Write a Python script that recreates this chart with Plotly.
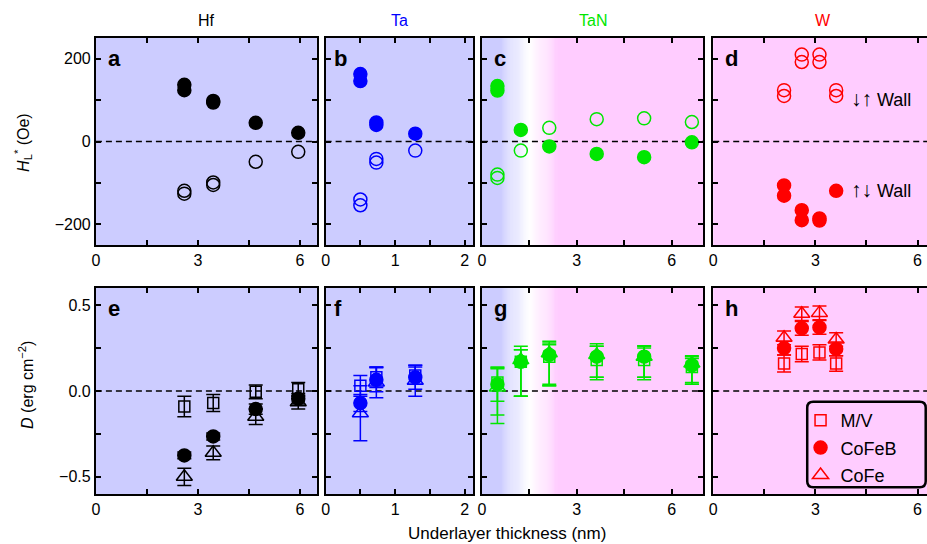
import plotly.graph_objects as go

# ---------------- data ----------------
# Top row: H_L* (Oe)
hf_x_filled = [2.6, 2.6, 3.45, 3.45, 4.7, 5.95]
hf_filled = [137, 124, 98, 94, 45, 21]
hf_x_open = [2.6, 2.6, 3.45, 3.45, 4.7, 5.95]
hf_open = [-119, -126, -99, -105, -49, -25]

ta_x_filled = [0.5, 0.5, 0.73, 0.73, 1.29]
ta_filled = [163, 146, 46, 40, 19]
ta_x_open = [0.5, 0.5, 0.73, 0.73, 1.29]
ta_open = [-140, -154, -42, -51, -22]

tan_x_filled = [0.49, 0.49, 1.23, 2.13, 3.63, 5.13, 6.64]
tan_filled = [134, 123, 28, -12, -30, -38, -2]
tan_x_open = [0.49, 0.49, 1.23, 2.13, 3.63, 5.13, 6.64]
tan_open = [-80, -88, -22, 33, 54, 56, 47]

w_x_open = [2.08, 2.08, 2.6, 2.6, 3.12, 3.12, 3.61, 3.61]
w_open = [124, 110, 210, 192, 210, 192, 124, 110]
w_x_filled = [2.08, 2.08, 2.6, 2.6, 3.12, 3.12, 3.61]
w_filled = [-106, -131, -166, -190, -186, -191, -119]

# Bottom row: D (erg cm^-2)
hf_d_x = [2.6, 3.45, 4.7, 5.95]
hf_mv = [-0.09, -0.07, -0.005, 0.01]
hf_mv_err = [0.06, 0.05, 0.04, 0.04]
hf_cofeb = [-0.375, -0.265, -0.105, -0.045]
hf_cofeb_err = [0.02, 0.02, 0.03, 0.03]
hf_cofe = [-0.50, -0.36, -0.15, -0.065]
hf_cofe_err = [0.05, 0.04, 0.045, 0.04]

ta_d_x = [0.5, 0.73, 1.29]
ta_mv = [0.03, 0.08, 0.09]
ta_mv_err = [0.06, 0.06, 0.05]
ta_cofeb = [-0.07, 0.065, 0.08]
ta_cofeb_err = [0.05, 0.07, 0.07]
ta_cofe = [-0.13, 0.05, 0.06]
ta_cofe_err = [0.16, 0.09, 0.09]

tan_d_x = [0.49, 1.23, 2.13, 3.63, 5.13, 6.64]
tan_mv = [0.05, 0.17, 0.20, 0.18, 0.18, 0.14]
tan_mv_err_p = [0.085, 0.07, 0.07, 0.08, 0.07, 0.05]
tan_mv_err_m = [0.19, 0.20, 0.17, 0.10, 0.10, 0.10]
tan_cofeb = [0.04, 0.17, 0.21, 0.20, 0.20, 0.15]
tan_cofeb_err_p = [0.09, 0.07, 0.07, 0.06, 0.06, 0.05]
tan_cofeb_err_m = [0.10, 0.20, 0.17, 0.12, 0.12, 0.10]
tan_cofe = [0.02, 0.18, 0.22, 0.21, 0.20, 0.16]
tan_cofe_err_p = [0.12, 0.08, 0.07, 0.065, 0.063, 0.045]
tan_cofe_err_m = [0.21, 0.21, 0.19, 0.145, 0.135, 0.12]

w_d_x = [2.08, 2.6, 3.12, 3.61]
w_mv = [0.16, 0.215, 0.225, 0.16]
w_mv_err = [0.05, 0.045, 0.045, 0.045]
w_cofeb = [0.25, 0.365, 0.37, 0.245]
w_cofeb_err = [0.04, 0.04, 0.04, 0.04]
w_cofe = [0.31, 0.45, 0.455, 0.30]
w_cofe_err = [0.04, 0.04, 0.04, 0.04]

materials = ["Hf", "Ta", "TaN", "W"]
panel_letters = ["a", "b", "c", "d", "e", "f", "g", "h"]
legend_names = ["M/V", "CoFeB", "CoFe"]

# ---------------- style ----------------
BLACK, BLUE, GREEN, RED = "#000000", "#0000ff", "#00e600", "#ff0000"
mat_colors = [BLACK, BLUE, GREEN, RED]
LAV, PINK, WHITE = (204, 204, 255), (255, 204, 255), (255, 255, 255)
FONT = "Liberation Sans, Arial, sans-serif"
W_PX, H_PX = 927, 544

col_px = [(92.3, 314.3), (323, 471), (480, 702.3), (712.3, 927)]
row_px = [(38, 245), (288, 494)]
x_ranges = [[0, 6.5], [0, 2.12], [0, 7.0], [0, (927 - 712.3) / 34.2]]
y_ranges = [[-250, 250], [-0.6, 0.6]]

fig = go.Figure()


def ax(i):
    return ("x" if i == 1 else f"x{i}"), ("y" if i == 1 else f"y{i}")


def scatter(i, x, y, symbol, color, size, ep=None, em=None, name=None, legend=False, rank=None):
    xa, ya = ax(i)
    marker = dict(symbol=symbol, size=size, color=color, line=dict(width=1.5, color=color))
    kw = {}
    if ep is not None:
        kw["error_y"] = dict(type="data", array=ep, arrayminus=em if em is not None else ep,
                             symmetric=em is None, color=color, thickness=1.5, width=7)
    fig.add_trace(go.Scatter(x=x, y=y, mode="markers", marker=marker, xaxis=xa, yaxis=ya,
                             name=name, showlegend=legend, legendrank=rank,
                             legendgroup=name if legend else None, **kw))


# top row
top = [
    (hf_x_filled, hf_filled, hf_x_open, hf_open),
    (ta_x_filled, ta_filled, ta_x_open, ta_open),
    (tan_x_filled, tan_filled, tan_x_open, tan_open),
    (w_x_filled, w_filled, w_x_open, w_open),
]
for k, (xf, yf, xo, yo) in enumerate(top):
    c = mat_colors[k]
    scatter(k + 1, xo, yo, "circle-open", c, 13)
    scatter(k + 1, xf, yf, "circle", c, 13)

# bottom row
bottom = [
    (hf_d_x, hf_mv, hf_mv_err, None, hf_cofeb, hf_cofeb_err, None, hf_cofe, hf_cofe_err, None),
    (ta_d_x, ta_mv, ta_mv_err, None, ta_cofeb, ta_cofeb_err, None, ta_cofe, ta_cofe_err, None),
    (tan_d_x, tan_mv, tan_mv_err_p, tan_mv_err_m, tan_cofeb, tan_cofeb_err_p, tan_cofeb_err_m,
     tan_cofe, tan_cofe_err_p, tan_cofe_err_m),
    (w_d_x, w_mv, w_mv_err, None, w_cofeb, w_cofeb_err, None, w_cofe, w_cofe_err, None),
]
for k, (x, mv, mve, mvem, fb, fbe, fbem, fe, fee, feem) in enumerate(bottom):
    c = mat_colors[k]
    leg = k == 3
    scatter(k + 5, x, fe, "triangle-up-open", c, 14, fee, feem,
            name=legend_names[2], legend=leg, rank=3)
    scatter(k + 5, x, mv, "square-open", c, 11, mve, mvem,
            name=legend_names[0], legend=leg, rank=1)
    scatter(k + 5, x, fb, "circle", c, 13, fbe, fbem,
            name=legend_names[1], legend=leg, rank=2)

# ---------------- axes ----------------
layout = dict(width=W_PX, height=H_PX, margin=dict(l=0, r=0, t=0, b=0),
              paper_bgcolor="white", plot_bgcolor="rgba(0,0,0,0)",
              font=dict(family=FONT, size=16, color="black"))
shapes, annotations = [], []


def hexc(rgb):
    return "#%02x%02x%02x" % tuple(int(round(v)) for v in rgb)


for r in range(2):
    for cidx in range(4):
        i = r * 4 + cidx + 1
        x0, x1 = col_px[cidx]
        y0, y1 = row_px[r]
        xa_name = "xaxis" if i == 1 else f"xaxis{i}"
        ya_name = "yaxis" if i == 1 else f"yaxis{i}"
        xa, ya = ax(i)
        xd_major, xd_minor = (1, 0.5) if cidx == 1 else (3, 1.5)
        yd_major, yd_minor, yfmt = (200, 100, "") if r == 0 else (0.5, 0.25, ".1f")
        common = dict(showline=True, linewidth=2, linecolor="black", ticks="inside",
                      ticklen=5, tickwidth=1.5, tickcolor="black", showgrid=False,
                      zeroline=False, tickfont=dict(family=FONT, size=16, color="black"),
                      fixedrange=True, tickmode="linear", tick0=0)
        minor_common = dict(ticks="inside", ticklen=5, tickwidth=1.5, tickcolor="black",
                            showgrid=False, tick0=0)
        layout[xa_name] = dict(domain=[x0 / W_PX, x1 / W_PX], range=x_ranges[cidx],
                               anchor=ya, dtick=xd_major, mirror="ticks",
                               minor=dict(dtick=xd_minor, **minor_common), **common)
        layout[ya_name] = dict(domain=[1 - y1 / H_PX, 1 - y0 / H_PX], range=y_ranges[r],
                               anchor=xa, dtick=yd_major, tickformat=yfmt,
                               minor=dict(dtick=yd_minor, **minor_common),
                               mirror=("ticks" if cidx < 3 else False),
                               showticklabels=(cidx == 0), **common)
        xd = "x domain" if i == 1 else f"x{i} domain"
        yd = "y domain" if i == 1 else f"y{i} domain"
        # backgrounds
        if cidx in (0, 1):
            shapes.append(dict(type="rect", xref=xd, yref=yd, x0=0, x1=1, y0=0, y1=1,
                               fillcolor=hexc(LAV), line=dict(width=0), layer="below"))
        elif cidx == 3:
            shapes.append(dict(type="rect", xref=xd, yref=yd, x0=0, x1=1, y0=0, y1=1,
                               fillcolor=hexc(PINK), line=dict(width=0), layer="below"))
        else:
            stops = [(0.0, LAV), (0.6, LAV), (1.5, WHITE), (2.4, PINK), (7.0, PINK)]
            n = 60
            g0, g1 = 0.6, 2.4
            shapes.append(dict(type="rect", xref=xa, yref=yd, x0=0, x1=g0 + 0.01, y0=0, y1=1,
                               fillcolor=hexc(LAV), line=dict(width=0), layer="below"))
            shapes.append(dict(type="rect", xref=xa, yref=yd, x0=g1 - 0.01, x1=7.0, y0=0, y1=1,
                               fillcolor=hexc(PINK), line=dict(width=0), layer="below"))
            for s in range(n):
                a = g0 + (g1 - g0) * s / n
                b = g0 + (g1 - g0) * (s + 1) / n
                m = (a + b) / 2
                for (p0, c0), (p1, c1) in zip(stops[:-1], stops[1:]):
                    if p0 <= m <= p1:
                        t = (m - p0) / (p1 - p0)
                        col = tuple(c0[j] + (c1[j] - c0[j]) * t for j in range(3))
                        break
                shapes.append(dict(type="rect", xref=xa, yref=yd, x0=a, x1=b + 0.005, y0=0, y1=1,
                                   fillcolor=hexc(col), line=dict(width=0), layer="below"))
        # dashed zero line
        shapes.append(dict(type="line", xref=xd, yref=ya, x0=0, x1=1, y0=0, y1=0,
                           line=dict(color="black", width=1.5, dash="6px,4px"), layer="below"))
        # panel letter
        annotations.append(dict(text="<b>%s</b>" % panel_letters[i - 1], xref=xd, yref=yd,
                                x=0.045, y=0.9, xanchor="left", yanchor="middle",
                                showarrow=False, font=dict(family=FONT, size=22, color="black")))

# material titles
for cidx, m in enumerate(materials):
    x0, x1 = col_px[cidx]
    xc = (x0 + x1) / 2 if cidx < 3 else 823
    annotations.append(dict(text=m, xref="paper", yref="paper", x=xc / W_PX, y=1 - 21 / H_PX,
                            xanchor="center", yanchor="middle", showarrow=False,
                            font=dict(family=FONT, size=16, color=mat_colors[cidx])))

# axis titles
annotations.append(dict(text="<i>H</i><sub>L</sub><sup>*</sup> (Oe)", xref="paper", yref="paper",
                        x=19 / W_PX, y=1 - 142 / H_PX, textangle=-90, showarrow=False,
                        xanchor="center", yanchor="middle", font=dict(family=FONT, size=16)))
annotations.append(dict(text="<i>D</i> (erg cm<sup>\u22122</sup>)", xref="paper", yref="paper",
                        x=22 / W_PX, y=1 - 385 / H_PX, textangle=-90, showarrow=False,
                        xanchor="center", yanchor="middle", font=dict(family=FONT, size=16)))
annotations.append(dict(text="Underlayer thickness (nm)", xref="paper", yref="paper",
                        x=505 / W_PX, y=1 - 533 / H_PX, showarrow=False,
                        xanchor="center", yanchor="middle", font=dict(family=FONT, size=17)))

# wall annotations in panel d
ARROW_SPAN = "<span style='font-size:21px'>%s</span> Wall"
annotations.append(dict(text=ARROW_SPAN % "\u2193\u2191", xref="x4", yref="y4", x=4.0, y=105,
                        xanchor="left", yanchor="middle", showarrow=False,
                        font=dict(family=FONT, size=18, color="black")))
annotations.append(dict(text=ARROW_SPAN % "\u2191\u2193", xref="x4", yref="y4", x=4.0, y=-117,
                        xanchor="left", yanchor="middle", showarrow=False,
                        font=dict(family=FONT, size=18, color="black")))

# rounded legend box
bx0, bx1, by0, by1, rr = 806.7, 925.7, 401.7, 487.3, 6
def P(x, y):
    return "%.5f,%.5f" % (x / W_PX, 1 - y / H_PX)
path = ("M" + P(bx0 + rr, by0) + " L" + P(bx1 - rr, by0) + " Q" + P(bx1, by0) + " " + P(bx1, by0 + rr)
        + " L" + P(bx1, by1 - rr) + " Q" + P(bx1, by1) + " " + P(bx1 - rr, by1)
        + " L" + P(bx0 + rr, by1) + " Q" + P(bx0, by1) + " " + P(bx0, by1 - rr)
        + " L" + P(bx0, by0 + rr) + " Q" + P(bx0, by0) + " " + P(bx0 + rr, by0) + " Z")
shapes.append(dict(type="path", xref="paper", yref="paper", path=path,
                   line=dict(color="black", width=2.5), fillcolor="rgba(0,0,0,0)", layer="above"))

layout["shapes"] = shapes
layout["annotations"] = annotations
layout["legend"] = dict(x=800 / W_PX, y=1 - 402 / H_PX, xanchor="left", yanchor="top",
                        bgcolor="rgba(0,0,0,0)", borderwidth=0, traceorder="grouped",
                        tracegroupgap=1, font=dict(family=FONT, size=18, color="black"))
fig.update_layout(**layout)
fig.write_html("out.html", config={"displayModeBar": False},
               post_script="document.body.style.margin='0px';document.body.style.overflow='hidden';")
